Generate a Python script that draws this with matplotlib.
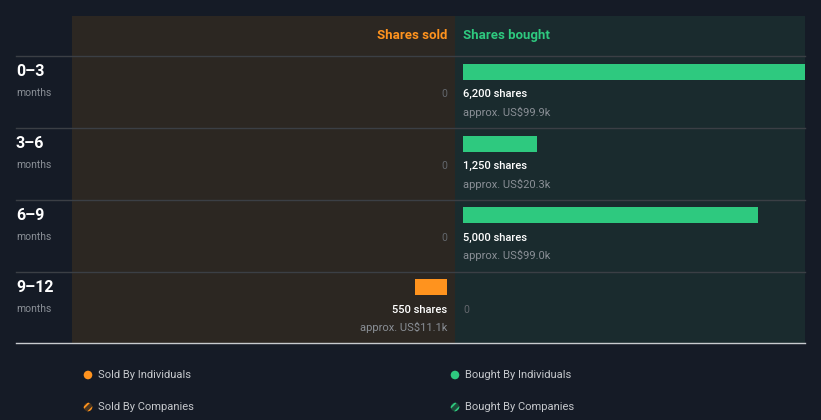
import matplotlib.pyplot as plt
from matplotlib.patches import Circle

plt.rcParams['font.family'] = ['Roboto', 'DejaVu Sans']
plt.rcParams['hatch.linewidth'] = 1.3

periods = ["0–3", "3–6", "6–9", "9–12"]
sold_shares = [0, 0, 0, 550]
sold_value = ["", "", "", "approx. US$11.1k"]
bought_shares = [6200, 1250, 5000, 0]
bought_value = ["approx. US$99.9k", "approx. US$20.3k", "approx. US$99.0k", ""]

BG = "#151b26"
SOLD_BG = "#2c2722"
BOUGHT_BG = "#1a2b2e"
ORANGE = "#ff931e"
GREEN = "#2ec97f"
GRID = "#3b3f45"

W, H = 821, 420
fig = plt.figure(figsize=(W / 100, H / 100), dpi=100)
fig.patch.set_facecolor(BG)


def px_axes(x0, y0, x1, y1):
    return fig.add_axes([x0 / W, 1 - y1 / H, (x1 - x0) / W, (y1 - y0) / H])


s = 0.059  # pixels per share
ax_s = px_axes(72, 16, 455, 343)
ax_b = px_axes(455, 16, 805, 343)
ax_s.set_facecolor(SOLD_BG)
ax_b.set_facecolor(BOUGHT_BG)
ax_s.set_xlim(375 / s, -8 / s)
ax_b.set_xlim(-8 / s, 342 / s)
for ax in (ax_s, ax_b):
    ax.set_ylim(4, -40 / 72)
    for sp in ax.spines.values():
        sp.set_visible(False)
    ax.set_xticks([])
    ax.set_yticks([])

rows = range(len(periods))
ax_s.barh([i + 16 / 72 for i in rows], sold_shares, height=16 / 72, color=ORANGE, left=0)
ax_b.barh([i + 16 / 72 for i in rows], bought_shares, height=16 / 72, color=GREEN, left=0)

for i in rows:
    if sold_shares[i]:
        ax_s.text(0, i + 38.5 / 72, f"{sold_shares[i]:,} shares", color="white",
                  fontsize=8, fontweight="medium", ha="right", va="center")
        ax_s.text(0, i + 56.5 / 72, sold_value[i], color="#8a8f96",
                  fontsize=8, ha="right", va="center")
    else:
        ax_s.text(0, i + 38.5 / 72, "0", color="#63676d", fontsize=7.5,
                  ha="right", va="center")
    if bought_shares[i]:
        ax_b.text(0, i + 38.5 / 72, f"{bought_shares[i]:,} shares", color="white",
                  fontsize=8, fontweight="medium", ha="left", va="center")
        ax_b.text(0, i + 56.5 / 72, bought_value[i], color="#8a8f96",
                  fontsize=8, ha="left", va="center")
    else:
        ax_b.text(0, i + 38.5 / 72, "0", color="#63676d", fontsize=7.5,
                  ha="left", va="center")

ax_s.text(0, -20 / 72, "Shares sold", color=ORANGE, fontsize=9.5,
          fontweight="bold", ha="right", va="center")
ax_b.text(0, -20 / 72, "Shares bought", color=GREEN, fontsize=9.5,
          fontweight="bold", ha="left", va="center")

# overlay for lines, row labels and legend (pixel coordinates)
ov = px_axes(0, 0, W, H)
ov.set_xlim(0, W)
ov.set_ylim(H, 0)
ov.axis("off")
ov.patch.set_alpha(0)

for i in rows:
    y = 56 + 72 * i
    ov.plot([16, 805], [y, y], color=GRID, lw=1)
    ov.text(16, y + 15, periods[i], color="white", fontsize=11.5,
            fontweight="bold", ha="left", va="center")
    ov.text(16, y + 36.5, "months", color="#8a8f96", fontsize=7.5,
            ha="left", va="center")
ov.plot([16, 805], [343, 343], color="#c8cbcf", lw=1)

legend = [
    (88, 375, ORANGE, "#4a3620", False, "Sold By Individuals"),
    (88, 407, ORANGE, "#4a3620", True, "Sold By Companies"),
    (455, 375, GREEN, "#1d4a3a", False, "Bought By Individuals"),
    (455, 407, GREEN, "#1d4a3a", True, "Bought By Companies"),
]
for x, y, c, dim, hatched, label in legend:
    if hatched:
        ov.add_patch(Circle((x, y), 4.3, facecolor=dim, edgecolor=c,
                            hatch="////", lw=0))
    else:
        ov.add_patch(Circle((x, y), 4.3, color=c, lw=0))
    ov.text(x + 10, y, label, color="#c5c8cc", fontsize=8, ha="left", va="center")

fig.savefig("out.png", dpi=100, facecolor=BG)
